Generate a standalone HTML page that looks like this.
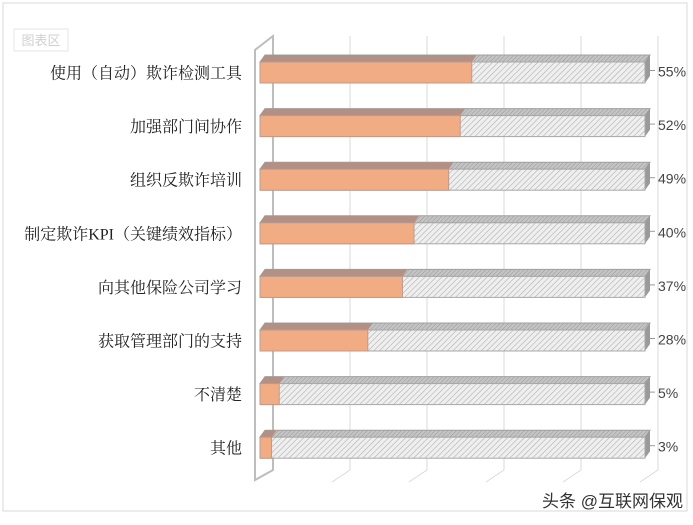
<!DOCTYPE html>
<html><head><meta charset="utf-8"><style>
body{margin:0;background:#fff;}
svg text{font-family:"Liberation Sans","Noto Sans CJK SC",sans-serif;}
svg text.cat{font-family:"Liberation Serif","Noto Serif CJK SC",serif;}
</style></head><body>
<svg id="chart" width="693" height="520">
<defs>
<pattern id="hatch" width="4" height="4" patternUnits="userSpaceOnUse" patternTransform="rotate(45)">
<rect width="4" height="4" fill="#efefef"/><line x1="0" y1="0" x2="0" y2="4" stroke="#b0b0b0" stroke-width="1.2"/>
</pattern>
<pattern id="hatchTop" width="3" height="3" patternUnits="userSpaceOnUse" patternTransform="rotate(45)">
<rect width="3" height="3" fill="#c4c4c4"/><line x1="0" y1="0" x2="0" y2="3" stroke="#999" stroke-width="1"/>
</pattern>
</defs>
<rect x="3" y="3" width="684" height="508" fill="#fff" stroke="#d9d9d9"/>
<rect x="14" y="29" width="54" height="22" fill="#fff" stroke="#e6e6e6"/>
<text x="41" y="45" font-size="13" fill="#d0d0d0" text-anchor="middle">图表区</text>
<g id="grid"></g>
<g id="bars"></g>
<text x="683" y="507" font-size="17" fill="#333" text-anchor="end">头条 @互联网保观</text>
</svg>
<script>
const categories=["使用（自动）欺诈检测工具","加强部门间协作","组织反欺诈培训","制定欺诈KPI（关键绩效指标）","向其他保险公司学习","获取管理部门的支持","不清楚","其他"];
const values=[55,52,49,40,37,28,5,3];
const ticks=[0,20,40,60,80,100];
const NS="http://www.w3.org/2000/svg";
const x0=260,x1=645,dx=13,dy=7;
const xs=v=>x0+(x1-x0)*v/100;
const yTop=i=>62+i*53.6;
function mk(t,a,p){const e=document.createElementNS(NS,t);for(const k in a)e.setAttribute(k,a[k]);p.appendChild(e);return e;}
const g=document.getElementById('grid'),b=document.getElementById('bars');
const wall=mk('path',{d:"M255 480 L255 50 L273 36 L273 470 Z",fill:"none",stroke:"#bdbdbd","stroke-width":2},g);


ticks.forEach(t=>{
 if(t===0)return;
 const x=xs(t)+dx;
 const l=mk('line',{x1:x,y1:36,x2:x,y2:470,stroke:"#d9d9d9","stroke-width":1},g);
 
 
 const s=mk('line',{x1:x,y1:470,x2:x-18,y2:482,stroke:"#d9d9d9","stroke-width":1},g);
 
 
});
categories.forEach((c,i)=>{
 const y=yTop(i),h=21,xv=xs(values[i]);
 const grp=mk('g',{},b);
 
 
 mk('polygon',{points:`${x0},${y} ${x0+5},${y-dy} ${x1+5},${y-dy} ${x1},${y}`,fill:"url(#hatchTop)",stroke:"#a0a0a0"},grp);
 mk('polygon',{points:`${x1},${y} ${x1+5},${y-dy} ${x1+5},${y+h-dy} ${x1},${y+h}`,fill:"#9a9a9a"},grp);
 mk('rect',{x:x0,y:y,width:x1-x0,height:h,fill:"url(#hatch)",stroke:"#a8a8a8"},grp);
 mk('polygon',{points:`${x0},${y} ${x0+5},${y-dy} ${xv+5},${y-dy} ${xv},${y}`,fill:"#b48f84"},grp);
 mk('rect',{x:x0,y:y,width:xv-x0,height:h,fill:"#f2ac84",stroke:"#b89b90"},grp);
 const lab=mk('text',{x:242,y:y+h/2+6,"font-size":16,fill:"#222","text-anchor":"end","class":"cat"},b);
 lab.textContent=c;
 
 
 mk('line',{x1:x1+5,y1:y+h/2-2,x2:655,y2:y+h/2-2,stroke:"#999"},b);
 const vl=mk('text',{x:658,y:y+h/2+4,"font-size":14,fill:"#444"},b);
 vl.textContent=values[i]+'%';
 
 
});
</script>
</body></html>
